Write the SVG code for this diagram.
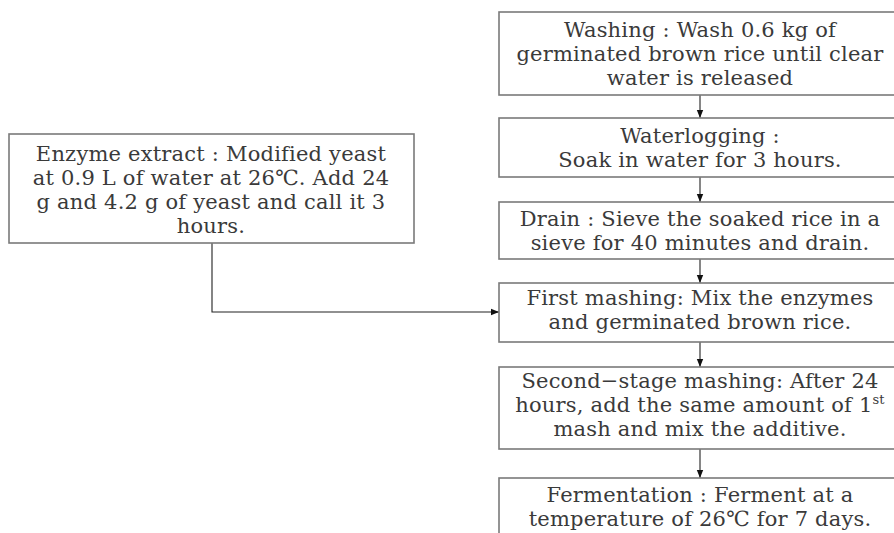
<svg xmlns="http://www.w3.org/2000/svg" width="894" height="533" viewBox="0 0 894 533">
<defs>
<marker id="ah" viewBox="0 0 10 10" refX="10" refY="5" markerWidth="8" markerHeight="8" markerUnits="userSpaceOnUse" orient="auto">
<path d="M0,1 L10,5 L0,9 z" fill="#111"/>
</marker>
<style>
.box{fill:#fff;stroke:#7a7a7a;stroke-width:1.6}
.t{font-family:"DejaVu Serif","Liberation Serif","Noto Sans CJK KR",serif;font-size:21px;letter-spacing:0.2px;fill:#3a3a3a;text-anchor:middle}
.c{fill:none;stroke:#222;stroke-width:1.1}
.sup{font-size:13px}
</style>
</defs>
<rect width="894" height="533" fill="#fff"/>
<g id="connectors">
<line class="c" x1="700" y1="95" x2="700" y2="118" marker-end="url(#ah)"/>
<line class="c" x1="700" y1="177" x2="700" y2="202" marker-end="url(#ah)"/>
<line class="c" x1="700" y1="259" x2="700" y2="283" marker-end="url(#ah)"/>
<line class="c" x1="700" y1="342" x2="700" y2="367" marker-end="url(#ah)"/>
<line class="c" x1="700" y1="449" x2="700" y2="478" marker-end="url(#ah)"/>
<polyline class="c" points="212,243 212,312 499,312" marker-end="url(#ah)"/>
</g>
<g id="washing">
<rect class="box" x="499" y="12" width="410" height="83"/>
<text class="t" x="700" y="37">Washing : Wash 0.6 kg of</text>
<text class="t" x="700" y="61">germinated brown rice until clear</text>
<text class="t" x="700" y="85">water is released</text>
</g>
<g id="waterlogging">
<rect class="box" x="499" y="118" width="410" height="59"/>
<text class="t" x="700" y="143">Waterlogging :</text>
<text class="t" x="700" y="167">Soak in water for 3 hours.</text>
</g>
<g id="drain">
<rect class="box" x="499" y="202" width="410" height="57"/>
<text class="t" x="700" y="226">Drain : Sieve the soaked rice in a</text>
<text class="t" x="700" y="250">sieve for 40 minutes and drain.</text>
</g>
<g id="first-mashing">
<rect class="box" x="499" y="283" width="410" height="59"/>
<text class="t" x="700" y="305">First mashing: Mix the enzymes</text>
<text class="t" x="700" y="329">and germinated brown rice.</text>
</g>
<g id="second-mashing">
<rect class="box" x="499" y="367" width="410" height="82"/>
<text class="t" x="700" y="388">Second−stage mashing: After 24</text>
<text class="t" x="700" y="412">hours, add the same amount of 1<tspan class="sup" dy="-8">st</tspan></text>
<text class="t" x="700" y="436">mash and mix the additive.</text>
</g>
<g id="fermentation">
<rect class="box" x="499" y="478" width="410" height="70"/>
<text class="t" x="700" y="502">Fermentation : Ferment at a</text>
<text class="t" x="700" y="526">temperature of 26℃ for 7 days.</text>
</g>
<g id="enzyme-extract">
<rect class="box" x="9" y="134" width="405" height="109"/>
<text class="t" x="211" y="161">Enzyme extract : Modified yeast</text>
<text class="t" x="211" y="185">at 0.9 L of water at 26℃. Add 24</text>
<text class="t" x="211" y="209">g and 4.2 g of yeast and call it 3</text>
<text class="t" x="211" y="233">hours.</text>
</g>
</svg>
